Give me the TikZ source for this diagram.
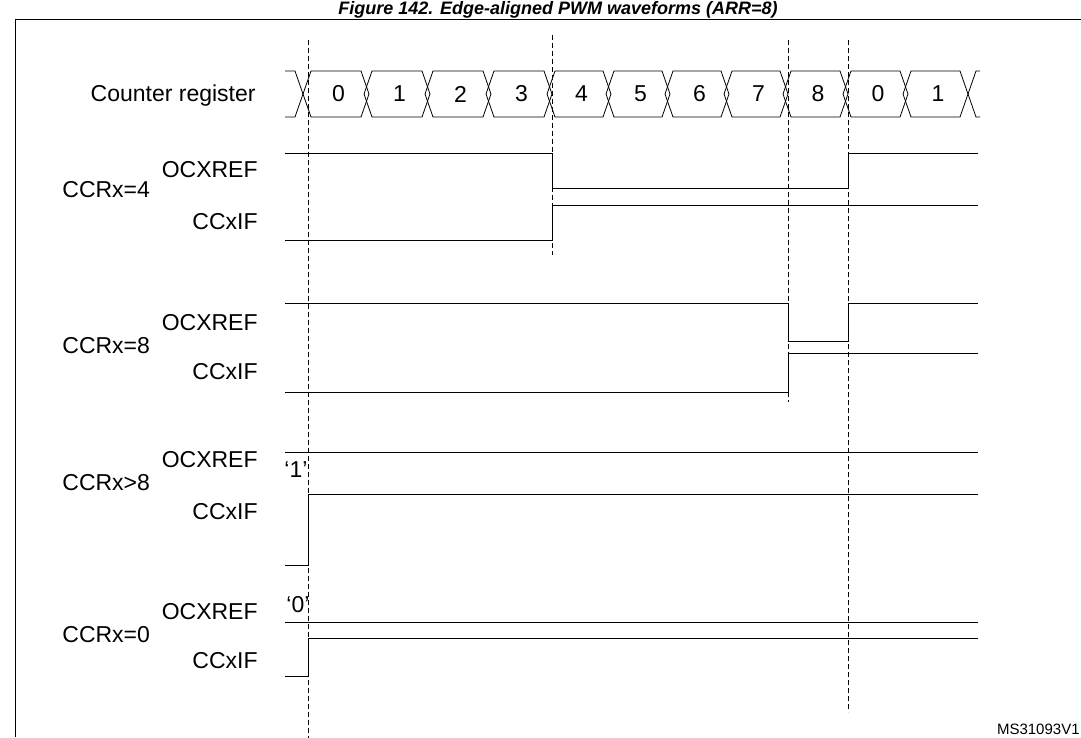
\documentclass[tikz,border=0pt]{standalone}
\usepackage{fontspec}
\setmainfont{Liberation Sans}
\begin{document}
\begin{tikzpicture}[x=1pt,y=-1pt,line width=0.8pt,
  lbl/.style={font=\fontsize{23}{26}\selectfont,inner sep=0pt},
  sig/.style={line width=0.8pt},
  vdash/.style={dash pattern=on 5pt off 3pt,line width=0.7pt}]
\useasboundingbox (0,0) rectangle (1081,737);
\node[font=\bfseries\itshape\fontsize{18}{20}\selectfont,anchor=base,inner sep=0pt] (title) at (558,14) {Figure 142. Edge-aligned PWM waveforms (ARR=8)};
\draw[line width=1pt] (15,737) -- (15,19) -- (1081,19);
% counter bus
\node[lbl,anchor=east] (cr) at (256,96) {Counter register};
\def\yt{71}\def\yb{117}\def\ym{94}
\draw (285,\yt) -- (295,\yt) -- (303,\ym) -- (295,\yb) -- (285,\yb);
\foreach \a/\b/\t [count=\i] in {308/369/0,369/430/1,430/491/2,491/552/3,552/611/4,611/670/5,670/729/6,729/788/7,788/848/8,848/908/0,908/968/1}{
  \draw (\a-5,\ym) -- (\a+3,\yt) -- (\b-8,\yt) -- (\b-0,\ym) -- (\b-8,\yb) -- (\a+3,\yb) -- cycle;
  \node[lbl] (c\i) at ({(\a+\b)/2},\ym) {\t};
}
\draw (968,\ym) -- (976,\yt) -- (980,\yt);
\draw (968,\ym) -- (976,\yb) -- (980,\yb);
% dashed lines
\draw[vdash] (308,40) -- (308,748);
\draw[vdash] (552,35) -- (552,255);
\draw[vdash] (788,40) -- (788,402);
\draw[vdash] (848,40) -- (848,712);
% labels
\node[lbl,anchor=west] (g1) at (62,190) {CCRx=4};
\node[lbl,anchor=west] (g2) at (62,346) {CCRx=8};
\node[lbl,anchor=west] (g3) at (62,483) {CCRx>8};
\node[lbl,anchor=west] (g4) at (62,635) {CCRx=0};
\foreach \y [count=\k] in {170,323,460,612}{\node[lbl,anchor=east] (o\k) at (258,\y) {OCXREF};}
\foreach \y [count=\k] in {222,372,512,661}{\node[lbl,anchor=east] (f\k) at (258,\y) {CCxIF};}
\node[lbl] (one) at (296,470) {`1'};
\node[lbl] (zero) at (298,605) {`0'};
\node[font=\fontsize{15}{16}\selectfont,anchor=east,inner sep=0pt] (ms) at (1080,729) {MS31093V1};
% waveforms
\draw[sig] (285,153) -- (552,153) -- (552,188) -- (848,188) -- (848,153) -- (978,153);
\draw[sig] (285,240) -- (552,240) -- (552,205) -- (978,205);
\draw[sig] (285,303) -- (788,303) -- (788,341) -- (848,341) -- (848,303) -- (978,303);
\draw[sig] (285,392) -- (788,392) -- (788,353) -- (978,353);
\draw[sig] (285,452) -- (978,452);
\draw[sig] (285,565) -- (308,565) -- (308,494) -- (978,494);
\draw[sig] (285,622) -- (978,622);
\draw[sig] (285,676) -- (308,676) -- (308,638) -- (978,638);
\end{tikzpicture}
\end{document}
